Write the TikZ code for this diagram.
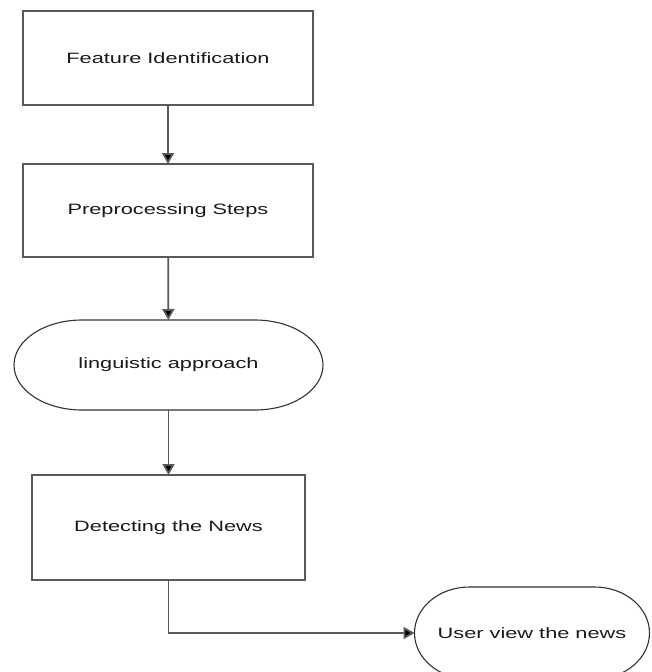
\documentclass[tikz,border=0pt]{standalone}
\usepackage{fontspec}
\setmainfont{Liberation Sans}[FakeStretch=1.45]
\usepackage{tikz}
\usetikzlibrary{arrows.meta}

\begin{document}
\begin{tikzpicture}[x=1pt, y=-1pt,
    every node/.style={font=\fontsize{15}{18}\selectfont, text=black!90, inner sep=0pt, outer sep=0pt},
    bloque/.style={draw=black!65, line width=1.8pt},
    terminal/.style={draw=none},
    flecha/.style={draw=black!65, line width=1.8pt, -{Triangle[length=11pt, width=12pt, fill=black]}}]
            \useasboundingbox (0,0) rectangle (651,672);
            % Bloques
            \node[bloque, minimum width=290pt, minimum height=94pt] (feature) at (168,58) {Feature Identification};
            \node[bloque, minimum width=290pt, minimum height=93pt] (prep) at (168,210.5) {Preprocessing Steps};
            \node[terminal, minimum width=309pt, minimum height=90pt] (ling) at (168.5,365) {linguistic approach};
            \node[bloque, minimum width=273pt, minimum height=105pt] (detect) at (168.5,527.5) {Detecting the News};
            \node[terminal, minimum width=235pt, minimum height=92pt] (user) at (532,633) {User view the news};

            % Contorno de los terminales
            \foreach \n/\rx/\ry in {ling/68/45, user/55/46}
              \draw[black!80, line width=1.1pt] ([xshift=\rx pt]\n.north west) -- ([xshift=-\rx pt]\n.north east)
                arc[start angle=90, end angle=-90, x radius=\rx pt, y radius=\ry pt]
                -- ([xshift=\rx pt]\n.south west)
                arc[start angle=270, end angle=90, x radius=\rx pt, y radius=\ry pt] -- cycle;

            % Flechas
            \draw[flecha] (feature) -- (prep);
            \draw[flecha] (prep) -- (ling);
            \draw[flecha] (ling) -- (detect);
            \draw[flecha] (detect.south) |- (user.west);
\end{tikzpicture}
\end{document}
